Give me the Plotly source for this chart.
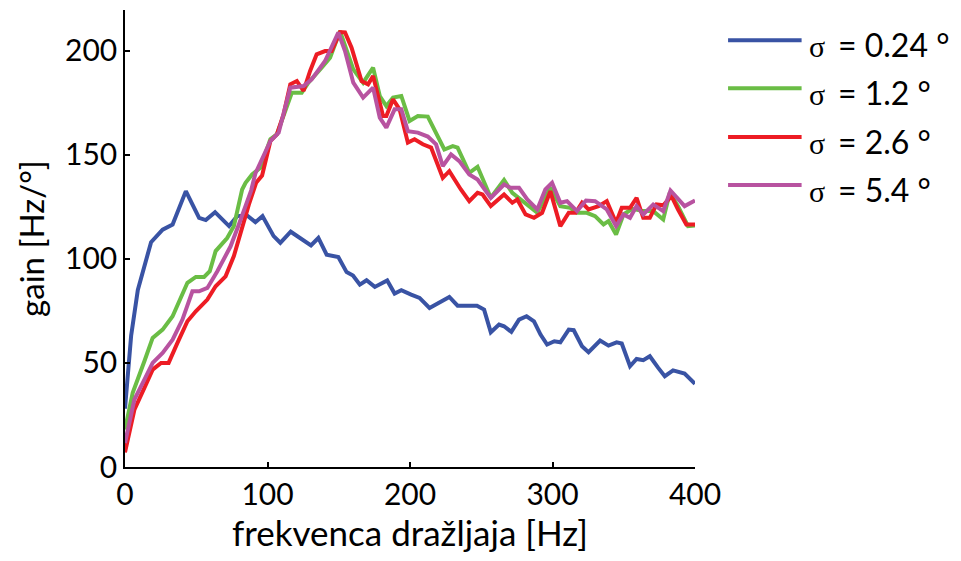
import plotly.graph_objects as go

# Stimulus frequency [Hz] and gain [Hz/deg] for each stimulus width sigma
freq_024 = [0, 4.3, 9, 18.3, 26.4, 33.4, 42.7, 52, 56.7, 63.2, 73, 78.7, 85.7, 91.5, 96.5,
            104.3, 109, 116.3, 130.5, 135.7, 141.5, 149.7, 155.5, 160, 164.8, 169.5, 175.3,
            184, 189.2, 193.9, 200.8, 206.7, 213.7, 219.5, 227.6, 233.4, 247, 252, 256.7,
            262.5, 266, 271.1, 276.5, 281.8, 287, 291.6, 296.2, 301.3, 305.5, 311.4, 314.9,
            320.7, 325.3, 333.4, 339.3, 345, 348.6, 354.4, 359, 363.7, 368.3, 374.2, 378.8,
            384.6, 392.7, 400]
gain_024 = [28, 63, 85, 108, 114, 116.5, 132.5, 119.7, 118.6, 122.4, 115.7, 120.5, 120.8,
            117.6, 120.5, 110.9, 107.7, 113, 106.4, 110, 102, 100.8, 93.6, 92, 87.6, 89.7,
            86.5, 89.6, 83.3, 84.9, 82.8, 81.2, 76.4, 78.5, 81.7, 77.5, 77.5, 75.6, 64.7,
            68.4, 67.6, 64.9, 70.8, 72.4, 70, 63.6, 58.8, 60.4, 59.9, 66, 65.7, 58, 55.1,
            60.7, 58.3, 59.9, 59.3, 48.4, 51.9, 51.3, 53.2, 47.6, 43.6, 46.4, 44.9, 40]

freq_12 = [0, 5.4, 13.6, 19.4, 26.4, 33.4, 43.8, 49.7, 55.5, 59.5, 63.6, 71.7, 76.4, 82.2,
           84.6, 89.2, 95, 102, 106.6, 111.3, 117.1, 124, 128.7, 138, 143.9, 150.9, 160.2,
           167.1, 174.1, 178.8, 183.4, 188.1, 193.9, 199.7, 205.5, 212.5, 217.2, 224.1, 230,
           233.4, 241.6, 247.4, 256.7, 266, 271.8, 280, 289.3, 298.5, 305.5, 312.5, 317.2,
           324.1, 329.9, 335.8, 339.3, 344.6, 349.8, 356, 363.7, 370.7, 377.7, 382.3, 388.1,
           395.1, 400]
gain_12 = [18, 35.6, 50.8, 62, 66, 72.4, 88.5, 91.3, 91.3, 94, 103.7, 110, 115.7, 133.3,
           136.5, 140.5, 143.7, 157.4, 159.8, 168.6, 179.8, 179.8, 184.6, 191.8, 196.6, 209.4,
           191, 184.6, 191.8, 178.2, 173.4, 177.4, 178.2, 166.2, 168.6, 168.3, 162.2, 152.5,
           154.1, 153.4, 141.3, 144.2, 129.3, 137.8, 131.7, 127, 122.1, 134.1, 125.3, 124.5,
           122.1, 122.1, 120.5, 116.5, 118.1, 111.7, 121.3, 124, 122.9, 122.9, 118.9, 131.7,
           125.3, 115.7, 116]

freq_26 = [0, 6.6, 13.6, 19.4, 25.3, 30.6, 36.8, 43.8, 49.7, 57.8, 63.6, 70.6, 76.4, 79.9,
           86.9, 92, 96.2, 102, 106.6, 111.3, 116, 120.6, 125.3, 129.9, 134.5, 140.4, 145,
           150.9, 154.4, 159, 166, 170.6, 174.1, 181.1, 183.4, 188.1, 192.7, 198.5, 203.2,
           209, 214.8, 223, 227.6, 235.7, 241.6, 247.4, 250.9, 256.7, 266, 271.8, 275.3,
           281.1, 287, 292.7, 298.5, 305.5, 311.4, 316.2, 320.7, 325.3, 332.3, 338.1, 344.6,
           348.6, 354.4, 359, 363.7, 368.3, 373, 377.7, 383.5, 388.1, 393.9, 400]
gain_26 = [7, 27.5, 38, 46.8, 50, 50, 59.6, 70, 74.8, 80.4, 86.8, 91.6, 101.3, 110, 126,
           136.5, 140, 156.5, 159.8, 169.4, 183.8, 185.4, 180.6, 190.2, 198.2, 199.8, 199.8,
           208.9, 208.7, 201.4, 185.4, 183.8, 187.8, 168.6, 168.6, 176.6, 171.8, 155.8,
           157.4, 155, 153.4, 138.9, 142.1, 133.3, 127.7, 131.7, 130.9, 125.3, 130.9, 126.9,
           128.5, 121.3, 119.7, 122.1, 132.5, 115.7, 122.1, 122.1, 126.9, 123.7, 125.3,
           127.7, 117.3, 124.5, 124.5, 129.3, 119.7, 119.7, 126.1, 125.7, 130.1, 123.7,
           116.5, 116.5]

freq_54 = [0, 6.6, 13.6, 19.4, 26.4, 33.4, 40.3, 47.3, 52, 57.8, 64.8, 74.1, 79.9, 84.6,
           88.6, 91.5, 97.3, 102, 107.8, 111.3, 116, 125.3, 131, 140.4, 149.7, 154.4, 160.2,
           167.1, 174.1, 178.8, 183.4, 189.2, 193.9, 198.5, 205.5, 212.5, 218.3, 223, 228.8,
           234.6, 241.6, 247.4, 256.7, 266, 270.6, 276.5, 282.3, 289.3, 295, 299.7, 305.5,
           310.2, 317.2, 323.5, 329.9, 338.1, 344.6, 349.8, 354.4, 359, 363.7, 370.7, 377.7,
           382.8, 388.1, 392.7, 400]
gain_54 = [11.5, 32.4, 42, 50, 54.8, 61.2, 70.8, 84.4, 84.4, 86, 94, 106, 116.5, 126, 133,
           141, 150.1, 156.5, 160.6, 170, 182.2, 183, 186.2, 195, 208.7, 199.8, 184.6, 177.4,
           182.2, 167.8, 163, 171.8, 171.8, 161.3, 160.6, 158.7, 155, 144.5, 150.1, 146.9,
           140.5, 138.1, 129.3, 135.7, 134.1, 134.1, 128.5, 123.7, 133.3, 136.5, 126.9,
           127.7, 122.9, 128, 127.7, 123.7, 115.7, 121.3, 119.7, 125.3, 121.3, 126.1, 122.9,
           132.8, 128.5, 125.3, 128]

series_labels = ["0.24", "1.2", "2.6", "5.4"]
series_colors = ["#3953A4", "#6ABD45", "#ED1C24", "#B853A0"]
x_ticks = [0, 100, 200, 300, 400]
y_ticks = [0, 50, 100, 150, 200]

FONT = "Lato, 'Open Sans', sans-serif"
SERIF = "'Liberation Serif', 'DejaVu Serif', serif"
series = [(freq_024, gain_024), (freq_12, gain_12), (freq_26, gain_26), (freq_54, gain_54)]

fig = go.Figure()
for (fx, gy), col in zip(series, series_colors):
    fig.add_trace(go.Scatter(x=fx, y=gy, mode="lines",
                             line=dict(color=col, width=4), showlegend=False,
                             hoverinfo="skip"))

axis_common = dict(showline=True, linecolor="black", linewidth=1.5, ticks="inside",
                   ticklen=5, tickwidth=1.5, tickcolor="black", showgrid=False,
                   zeroline=False, tickfont=dict(size=30, color="black", family=FONT))

fig.update_xaxes(range=[0, 400], tickvals=x_ticks, **axis_common,
                 title=dict(text="frekvenca dražljaja [Hz]",
                            font=dict(size=35, color="black", family=FONT), standoff=9))
fig.update_yaxes(range=[0, 219.5], tickvals=y_ticks, **axis_common,
                 title=dict(text="gain [Hz/°]",
                            font=dict(size=33, color="black", family=FONT), standoff=10))

# Legend drawn beside the axes: coloured swatch, serif sigma, then the value label
legend_y = [0.934, 0.829, 0.722, 0.617]
for lab, col, ly in zip(series_labels, series_colors, legend_y):
    fig.add_shape(type="line", xref="paper", yref="paper", x0=1.058, x1=1.187,
                  y0=ly, y1=ly, line=dict(color=col, width=4))
    fig.add_annotation(xref="paper", yref="paper", x=1.197, y=ly - 0.014,
                       xanchor="left", yanchor="middle", showarrow=False,
                       text="σ", font=dict(size=30, color="black", family=SERIF))
    fig.add_annotation(xref="paper", yref="paper", x=1.248, y=ly - 0.01,
                       xanchor="left", yanchor="middle", showarrow=False,
                       text=f"= {lab} °", font=dict(size=32, color="black", family=FONT))

fig.update_layout(width=961, height=561, margin=dict(l=125, r=266, t=10, b=94),
                  plot_bgcolor="white", paper_bgcolor="white",
                  font=dict(family=FONT, color="black"))

fig.write_html("out.html")
